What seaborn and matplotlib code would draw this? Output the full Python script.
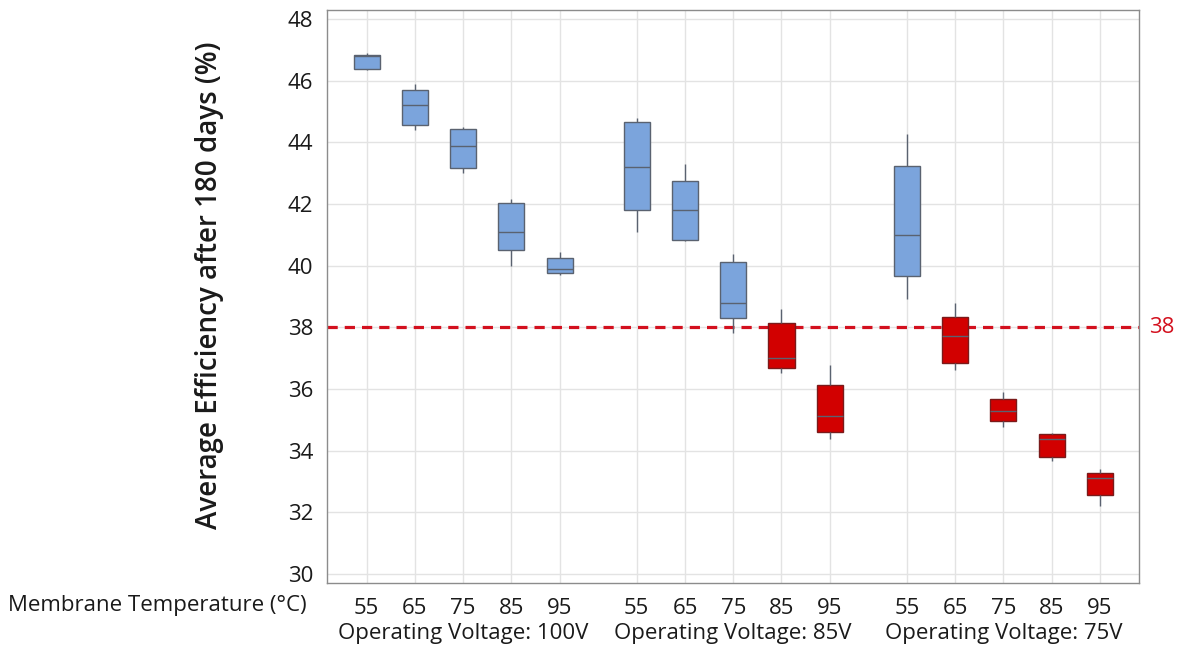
import numpy as np
import pandas as pd
import seaborn as sns
import matplotlib.pyplot as plt
from matplotlib import transforms

# Five-number summaries (per voltage group, temps 55..95)
temps = [55, 65, 75, 85, 95]
voltages = ["100V", "85V", "75V"]

whisker_low = [46.34, 44.42, 43.00, 40.00, 39.69,
               41.10, 40.81, 37.83, 36.51, 34.39,
               38.92, 36.61, 34.78, 33.67, 32.20]
q1 = [46.39, 44.58, 43.16, 40.50, 39.77,
      41.82, 40.85, 38.30, 36.69, 34.59,
      39.66, 36.84, 34.95, 33.78, 32.55]
median = [46.82, 45.20, 43.90, 41.09, 39.90,
          43.19, 41.82, 38.79, 36.99, 35.12,
          41.00, 37.71, 35.29, 34.39, 33.12]
q3 = [46.84, 45.70, 44.44, 42.05, 40.25,
      44.65, 42.74, 40.13, 38.15, 36.14,
      43.24, 38.33, 35.68, 34.53, 33.28]
whisker_high = [46.90, 45.91, 44.51, 42.17, 40.46,
                44.78, 43.29, 40.38, 38.58, 36.78,
                44.29, 38.78, 35.90, 34.56, 33.39]

target = 38
group_step = 5.6

rows = []
k = 0
for g, v in enumerate(voltages):
    for i, t in enumerate(temps):
        pos = g * group_step + i
        below = "below" if median[k] < target else "above"
        for val in (whisker_low[k], q1[k], median[k], q3[k], whisker_high[k]):
            rows.append({"pos": pos, "voltage": v, "temp": t, "eff": val, "flag": below})
        k += 1
df = pd.DataFrame(rows)

sns.set_style("white")
plt.rcParams["font.family"] = ["Open Sans", "DejaVu Sans"]

fig = plt.figure(figsize=(11.79, 6.5), dpi=100)
ax = fig.add_axes([327 / 1179, 1 - 583 / 650, (1139 - 327) / 1179, (583 - 10) / 650])

ax.axhline(target, color="#d3101e", ls=(0, (3.2, 2.2)), lw=2.3, zorder=1)

sns.boxplot(data=df, x="pos", y="eff", hue="flag", native_scale=True, dodge=False,
            palette={"above": "#7ba4dc", "below": "#d20000"}, saturation=1,
            whis=(0, 100), width=0.54, linecolor="#5a6270", linewidth=1.0,
            showfliers=False, showcaps=False, legend=False, ax=ax, zorder=3)

# darker red edges for red boxes
for p in ax.patches:
    fc = p.get_facecolor()
    if fc[0] > 0.7 and fc[2] < 0.2:
        p.set_edgecolor("#7a1a1a")

positions = sorted(df["pos"].unique())
ax.set_xticks(positions)
ax.set_xticklabels([str(t) for t in temps] * len(voltages))
ax.set_xlim(-0.82, 2 * group_step + 4 + 0.81)
ax.set_ylim(29.7, 48.3)
ax.set_yticks(np.arange(30, 49, 2))
ax.set_xlabel("")
ax.set_ylabel("")

ax.grid(True, color="#e3e3e3", lw=1.0, zorder=0)
ax.set_axisbelow(True)
for s in ax.spines.values():
    s.set_color("#8c8c8c")
    s.set_linewidth(1.0)
ax.tick_params(axis="both", which="major", direction="out", length=4, width=0.8,
               color="#8c8c8c", labelsize=16, labelcolor="#1a1a1a", pad=6)
ax.tick_params(axis="x", pad=7)

trans = transforms.blended_transform_factory(ax.transAxes, ax.transData)
ax.text(1.012, target, str(target), transform=trans, color="#d3101e",
        fontsize=16, va="center", ha="left")

for g, v in enumerate(voltages):
    cx = g * group_step + 2
    ax.annotate(f"Operating Voltage: {v}", xy=(cx, 0), xycoords=("data", "axes fraction"),
                xytext=(0, -29), textcoords="offset points", ha="center", va="top",
                fontsize=16, color="#1a1a1a")

fig.text(8 / 1179, 1 - 605 / 650, "Membrane Temperature (°C)", fontsize=16,
         color="#1a1a1a", ha="left", va="center")
fig.text(210 / 1179, 1 - 285 / 650, "Average Efficiency after 180 days (%)",
         rotation=90, fontsize=20, fontweight="semibold", color="#1a1a1a",
         ha="center", va="center")

fig.savefig("out.png", dpi=100)
